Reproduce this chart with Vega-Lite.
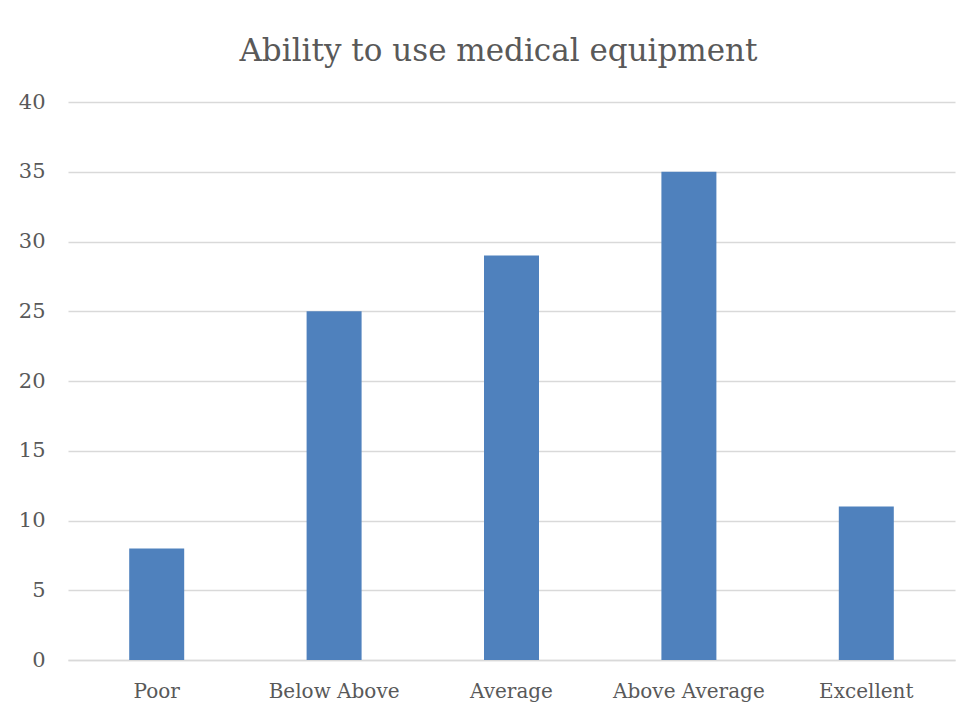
{
  "$schema": "https://vega.github.io/schema/vega-lite/v6.json",
  "width": 887,
  "height": 558,
  "autosize": {"type": "none"},
  "padding": {"left": 68, "top": 102, "right": 23, "bottom": 57},
  "background": "white",
  "config": {
    "view": {"stroke": null},
    "font": "DejaVu Serif"
  },
  "title": {
    "text": "Ability to use medical equipment",
    "font": "DejaVu Serif",
    "fontSize": 31,
    "fontWeight": "normal",
    "color": "#595959",
    "anchor": "middle",
    "offset": 23,
    "dx": -13
  },
  "data": {
    "values": [
      {"rating": "Poor", "count": 8},
      {"rating": "Below Above", "count": 25},
      {"rating": "Average", "count": 29},
      {"rating": "Above Average", "count": 35},
      {"rating": "Excellent", "count": 11}
    ]
  },
  "mark": {"type": "bar", "color": "#4F81BD"},
  "encoding": {
    "x": {
      "field": "rating",
      "type": "nominal",
      "sort": null,
      "scale": {"paddingInner": 0.69, "paddingOuter": 0.345},
      "axis": {
        "title": null,
        "labelAngle": 0,
        "labelFont": "DejaVu Serif",
        "labelFontSize": 20,
        "labelColor": "#595959",
        "labelPadding": 21,
        "ticks": false,
        "domainColor": "#d9d9d9",
        "domainWidth": 1.5
      }
    },
    "y": {
      "field": "count",
      "type": "quantitative",
      "scale": {"domain": [0, 40]},
      "axis": {
        "title": null,
        "values": [0, 5, 10, 15, 20, 25, 30, 35, 40],
        "labelFont": "DejaVu Serif",
        "labelFontSize": 21,
        "labelColor": "#595959",
        "labelPadding": 23,
        "ticks": false,
        "domain": false,
        "gridColor": "#d9d9d9",
        "gridWidth": 1.5
      }
    }
  }
}
